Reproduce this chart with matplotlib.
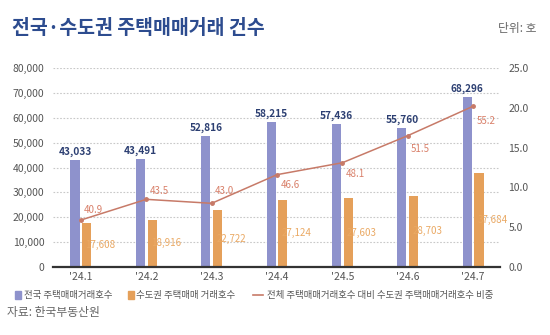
import matplotlib.pyplot as plt
import numpy as np

plt.rcParams['font.family'] = ['Noto Sans CJK KR', 'DejaVu Sans']

months = ["'24.1", "'24.2", "'24.3", "'24.4", "'24.5", "'24.6", "'24.7"]
nation = [43033, 43491, 52816, 58215, 57436, 55760, 68296]
capital = [17608, 18916, 22722, 27124, 27603, 28703, 37684]
share = [40.9, 43.5, 43.0, 46.6, 48.1, 51.5, 55.2]

c_nation = '#8e92cc'
c_capital = '#e5a05a'
c_line = '#c77a68'
c_navy = '#2c3f72'
c_tick = '#555555'

fig = plt.figure(figsize=(5.5, 3.35), dpi=100)
ax = fig.add_axes([0.096, 0.203, 0.813, 0.594])
x = np.arange(len(months))
w = 0.14

ax.bar(x - 0.09, nation, w, color=c_nation, zorder=3)
ax.bar(x + 0.09, capital, w, color=c_capital, zorder=3)

for i in range(len(x)):
	ax.text(x[i] - 0.09, nation[i] + 1200, f'{nation[i]:,}', ha='center', va='bottom',
			fontsize=7.3, color=c_navy, fontweight='bold', zorder=5)
	ax.text(x[i] + 0.07, capital[i] / 2, f'{capital[i]:,}', ha='left', va='center',
			fontsize=7, color='#eaa964', zorder=5)

ax.set_xlim(-0.43, 6.41)
ax.set_ylim(0, 80000)
ax.set_yticks(range(0, 80001, 10000))
ax.set_yticklabels([f'{v:,}' for v in range(0, 80001, 10000)])
ax.set_xticks(x)
ax.set_xticklabels(months)
ax.tick_params(length=0, labelsize=7.5, colors=c_tick)
ax.tick_params(axis='y', pad=6)
ax.grid(axis='y', linestyle=(0, (1.5, 1.5)), color='#c8c8c8', linewidth=0.8, zorder=0)
for s in ['top', 'right', 'left']:
	ax.spines[s].set_visible(False)
ax.spines['bottom'].set_color('#333333')
ax.spines['bottom'].set_linewidth(1.6)
ax.spines['bottom'].set_zorder(6)

# ratio line sits on the right axis, whose 0.0 mark corresponds to 35%
ax2 = ax.twinx()
ax2.plot(x, share, color=c_line, linewidth=1.1, marker='o', markersize=2.5, zorder=4)
ax2.set_ylim(35, 60)
ax2.set_yticks(np.arange(35, 60.1, 5))
ax2.set_yticklabels([f'{v - 35:.1f}' for v in np.arange(35, 60.1, 5)])
ax2.tick_params(length=0, labelsize=7.5, colors=c_tick, pad=6)
for s in ax2.spines.values():
	s.set_visible(False)

offsets = [1.2, 1.0, 1.5, -1.3, -1.4, -1.7, -1.8]
for i in range(len(x)):
	ax2.text(x[i] + 0.05, share[i] + offsets[i], f'{share[i]:.1f}', ha='left', va='center',
			 fontsize=7, color='#d9806a')

fig.text(0.022, 0.915, '전국·수도권 주택매매거래 건수', fontsize=14, fontweight='bold',
		 color='#2d4c8f', va='center')
fig.text(0.975, 0.915, '단위: 호', fontsize=8.5, color='#666666', ha='right', va='center')

# legend
ly = 0.118
fig.patches.append(plt.Rectangle((0.027, ly - 0.012), 0.012, 0.024, transform=fig.transFigure,
								 color=c_nation))
fig.text(0.043, ly, '전국 주택매매거래호수', fontsize=6.8, color='#555555', va='center')
fig.patches.append(plt.Rectangle((0.232, ly - 0.012), 0.012, 0.024, transform=fig.transFigure,
								 color=c_capital))
fig.text(0.248, ly, '수도권 주택매매 거래호수', fontsize=6.8, color='#555555', va='center')
fig.lines.append(plt.Line2D([0.46, 0.478], [ly, ly], transform=fig.transFigure,
							color=c_line, linewidth=1.2))
fig.text(0.486, ly, '전체 주택매매거래호수 대비 수도권 주택매매거래호수 비중', fontsize=6.8,
		 color='#555555', va='center')

fig.text(0.012, 0.066, '자료: 한국부동산원', fontsize=8.5, color='#666666', va='center')

fig.savefig('out.png', dpi=100, facecolor='white')
